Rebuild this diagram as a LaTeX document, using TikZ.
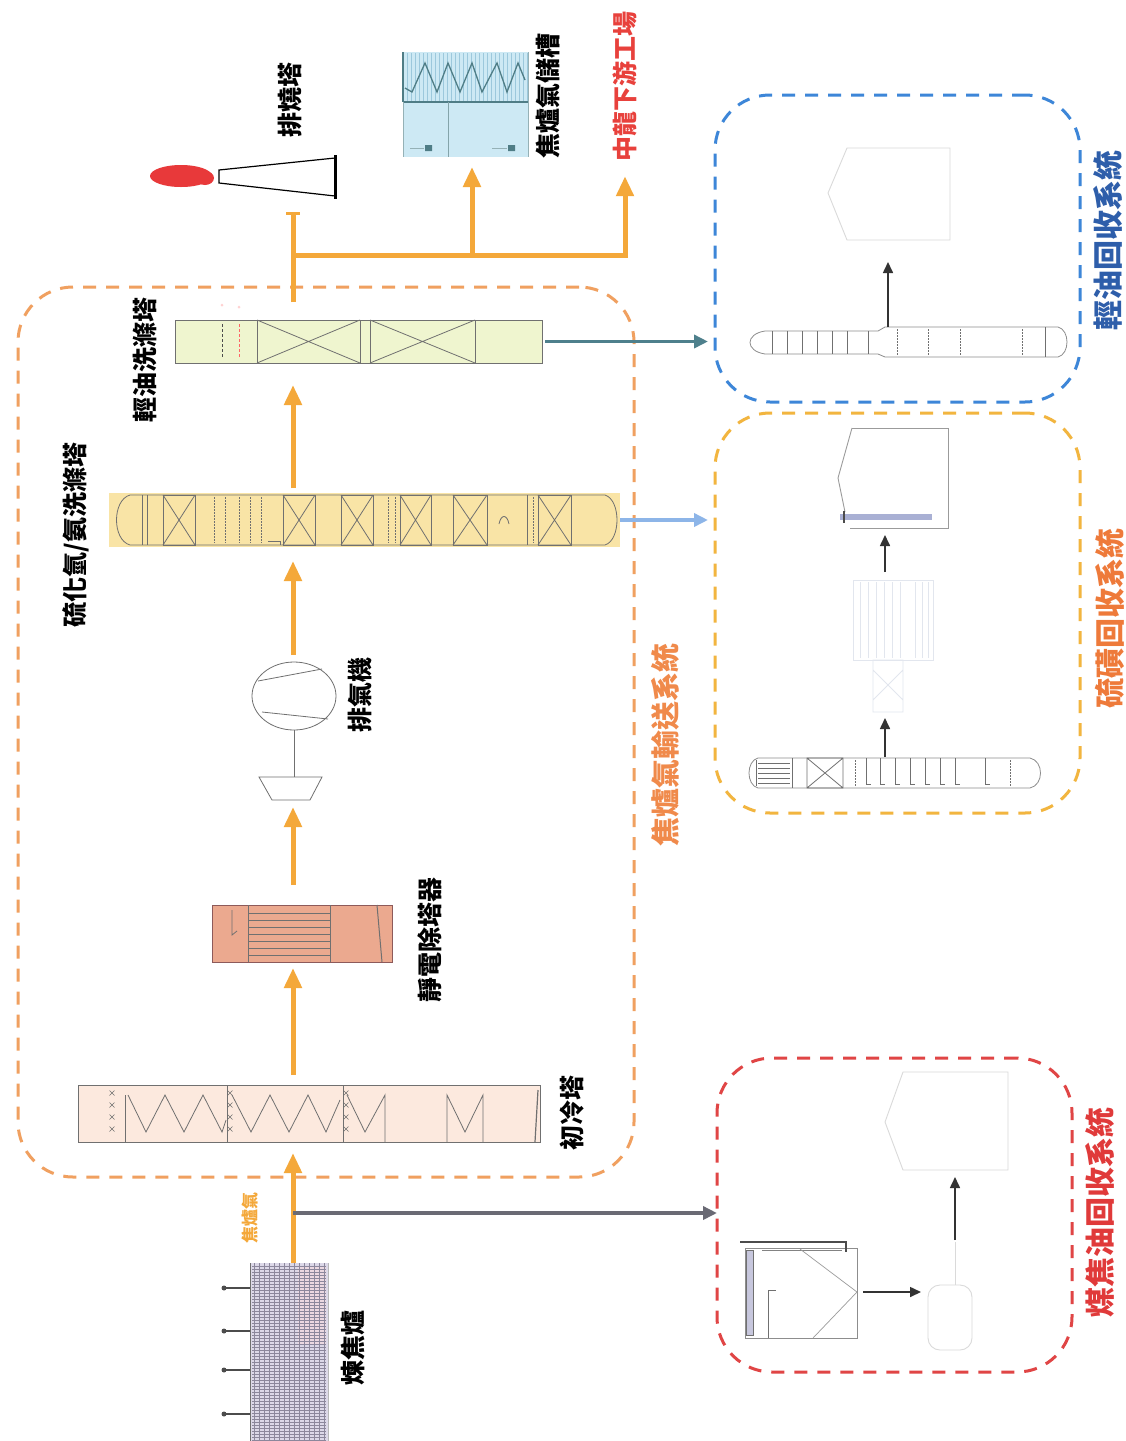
\documentclass[tikz,border=0pt]{standalone}
\usepackage{fontspec}
\newfontfamily\cjk{Noto Sans CJK TC}
\usetikzlibrary{arrows.meta,shapes.geometric}
\definecolor{flowc}{HTML}{F4A83A}
\definecolor{bigc}{HTML}{F0A060}
\definecolor{bluec}{HTML}{3D86D8}
\definecolor{yelc}{HTML}{F2B53F}
\definecolor{redc}{HTML}{E04545}
\definecolor{grayc}{HTML}{6A6A74}
\definecolor{tealc}{HTML}{4E808C}
\definecolor{lbluec}{HTML}{8DB5E8}
\definecolor{eqline}{HTML}{707070}
\definecolor{faintc}{HTML}{DADADA}
\definecolor{exfaint}{HTML}{E2E6EE}
\definecolor{blkc}{HTML}{333333}
\definecolor{ovenc}{HTML}{DCD8E8}
\definecolor{ovenl}{HTML}{8C879C}
\definecolor{coolc}{HTML}{FCE9DE}
\definecolor{espc}{HTML}{EBA98F}
\definecolor{h2sc}{HTML}{F9E4A6}
\definecolor{loc}{HTML}{EFF5CF}
\definecolor{holdc}{HTML}{CDE9F4}
\definecolor{holdl}{HTML}{9CC8DC}
\definecolor{zigc}{HTML}{4F7D86}
\definecolor{flamec}{HTML}{E8393A}
\definecolor{dsred}{HTML}{E8413C}
\definecolor{gasorange}{HTML}{F08A4B}
\definecolor{blutxt}{HTML}{2E5EAA}
\definecolor{sulftxt}{HTML}{EE7A3A}
\definecolor{tartxt}{HTML}{E03A3A}
\definecolor{barc}{HTML}{A9B0D4}
\definecolor{shadec}{HTML}{C7C7DD}
\begin{document}
\begin{tikzpicture}[x=1pt,y=-1pt,
 flow/.style={draw=flowc,line width=5pt,-{Triangle[length=20pt,width=17pt]}},
 flowline/.style={draw=flowc,line width=5pt},
 eqp/.style={draw=eqline,line width=0.8pt},
 faint/.style={draw=faintc,line width=0.9pt},
 dotl/.style={draw=eqline,line width=0.7pt,dash pattern=on 1.5pt off 1.5pt},
 blk/.style={draw=blkc,line width=1.6pt,-{Triangle[length=11pt,width=10pt]}},
 side/.style={line width=3.5pt,-{Triangle[length=14pt,width=13pt]}},
 sysbox/.style={rectangle,line width=3pt,dash pattern=on 13pt off 10pt,rounded corners=55pt,inner sep=0pt,outer sep=0pt},
 box/.style={rectangle,inner sep=0pt,outer sep=0pt},
 lbl/.style={rotate=90,inner sep=0pt,font=\cjk\bfseries\fontsize{25}{25}\selectfont},
 syslbl/.style={rotate=90,inner sep=0pt,font=\cjk\bfseries\fontsize{30}{30}\selectfont},
]
\fill[white] (0,0) rectangle (1126,1441);
\useasboundingbox (0,0) rectangle (1126,1441);

% ---------- system boxes ----------
\node[sysbox,draw=bigc,minimum width=616pt,minimum height=890pt] (gasbox) at (326,732) {};
\node[sysbox,draw=bluec,minimum width=365pt,minimum height=307pt] (bluebox) at (897.5,248.5) {};
\node[sysbox,draw=yelc,minimum width=365pt,minimum height=400pt] (yelbox) at (897.5,613) {};
\node[sysbox,draw=redc,minimum width=355pt,minimum height=314pt] (redbox) at (894.5,1215) {};

\coordinate (ax) at (293,0);

% ---------- coke oven ----------
\node[box,fill=ovenc,minimum width=78pt,minimum height=178pt] (oven) at (289,1352) {};
\fill[pink!60,opacity=0.45] (298,1266) rectangle (326,1345);
\foreach \yy in {1266,1269,...,1440} \draw[ovenl,line width=0.45pt] (252,\yy)--(326,\yy);
\foreach \xx in {254,259,...,324} \draw[ovenl,line width=0.5pt] (\xx,1263)--(\xx,1441);
\draw[eqline,line width=1pt] (250,1263)--(250,1441);
\draw[eqline!50,line width=0.8pt] (328,1263)--(328,1441);
\foreach \yy in {1288,1331,1370,1414}{
  \draw[draw=black!70,line width=2pt] (222,\yy)--(250,\yy);
  \fill[black!70] (224,\yy) circle (2.5pt);
}

% ---------- primary cooler ----------
\node[box,draw=eqline,fill=coolc,line width=0.8pt,minimum width=462pt,minimum height=57pt] (cooler) at (309,1113.5) {};
\draw[eqp] (125,1095)--(125,1142) (227,1085)--(227,1142) (343,1085)--(343,1142);
\draw[eqp] (128,1095)--(146,1132)--(165,1095)--(184,1132)--(203,1095)--(222,1132)--(226,1120);
\draw[eqp] (232,1095)--(251,1132)--(270,1095)--(289,1132)--(308,1095)--(326,1132)--(340,1100);
\draw[eqp] (347,1095)--(365,1132)--(385,1095)--(385,1142);
\draw[eqp] (447,1142)--(447,1095)--(465,1132)--(483,1095)--(483,1142);
\draw[eqline,line width=1.2pt] (535,1142)--(538,1090);
\foreach \cx in {112,230,346}{
  \foreach \cy in {1093,1105,1117,1129}{
    \draw[eqline,line width=0.6pt] (\cx-2.5,\cy-2.5)--(\cx+2.5,\cy+2.5) (\cx-2.5,\cy+2.5)--(\cx+2.5,\cy-2.5);
  }
}

% ---------- electrostatic precipitator ----------
\node[box,draw=eqline!80!red,fill=espc,line width=0.8pt,minimum width=180pt,minimum height=57pt] (esp) at (302,933.5) {};
\draw[eqp] (248,905)--(248,962) (330,905)--(330,962);
\foreach \yy in {913,920,...,955} \draw[eqline,line width=0.6pt] (248,\yy)--(330,\yy);
\draw[eqline,line width=1pt] (377,905)--(382,962);
\draw[eqp] (232,910)--(232,935)--(237,931);

% ---------- exhauster ----------
\node[ellipse,draw=eqline,line width=0.8pt,minimum width=84pt,minimum height=68pt,inner sep=0pt,outer sep=0pt] (exh) at (294,696) {};
\draw[eqp] (258,681)--(322,669);
\draw[eqp] (262,712)--(328,719);
\coordinate (compN) at (294,777);
\coordinate (compS) at (294,800);
\draw[eqp] (exh.south)--(compN);
\draw[eqp] (259,777)--(322,777)--(310,800)--(272,800)--cycle;

% ---------- H2S / NH3 scrubber ----------
\node[box,fill=h2sc,minimum width=511pt,minimum height=54pt] (h2s) at (364.5,520) {};
\draw[eqp] (130,495)--(605,495) .. controls (621,500) and (621,540) .. (605,545) -- (130,545) .. controls (112,540) and (112,500) .. (130,495);
\draw[eqp] (142,495)--(142,545) (147,495)--(147,545);
\foreach \a/\b in {163/195,283/315,341/373,400/431,453/487,538/571}{
  \draw[eqp] (\a,495) rectangle (\b,545);
  \draw[eqp] (\a,495)--(\b,545) (\a,545)--(\b,495);
}
\foreach \xx in {214,225,239,250,261,388,395,533} \draw[dotl] (\xx,497)--(\xx,543);
\draw[eqp] (527,495)--(527,545);
\draw[eqp] (268,541)--(280,541)--(280,545);
\draw[eqp] (499,524) .. controls (501,514) and (507,514) .. (509,524);

% ---------- light oil scrubber ----------
\node[box,draw=eqline,fill=loc,line width=0.8pt,minimum width=367pt,minimum height=43pt] (lo) at (358.5,341.5) {};
\foreach \a/\b in {257/360,370/475}{
  \draw[eqp] (\a,320) rectangle (\b,363);
  \draw[eqp] (\a,320)--(\b,363) (\a,363)--(\b,320);
}
\draw[draw=black!70,line width=0.9pt,dash pattern=on 3pt off 2pt] (222,324)--(222,358);
\draw[draw=red!60,line width=0.9pt,dash pattern=on 3pt off 2pt] (239,324)--(239,358);
\fill[pink!70] (222,305) circle (1.5pt) (239,307) circle (1.5pt);

% ---------- flare ----------
\fill[flamec] (181,176) ellipse [x radius=31, y radius=11];
\fill[flamec] (205,178) ellipse [x radius=9, y radius=7];
\draw[draw=black,line width=1.2pt] (219,170)--(335,158)--(335,196)--(219,183)--cycle;
\draw[draw=black,line width=3pt] (335,155)--(335,199);

% ---------- gas holder ----------
\node[box,fill=holdc,minimum width=125pt,minimum height=105pt] (holder) at (465.5,104.5) {};
\foreach \xx in {407,411,...,527} \draw[holdl,line width=0.6pt] (\xx,53)--(\xx,101);
\draw[zigc,line width=1.3pt] (405,88)--(412,92)--(425,63)--(437,92)--(448,63)--(460,92)--(472,63)--(482,92)--(497,63)--(507,92)--(518,63)--(525,80);
\draw[zigc,line width=1.2pt] (403,102)--(528,102);
\draw[zigc,line width=1.4pt] (403,52)--(403,102);
\draw[zigc!60,line width=0.8pt] (403,102)--(403,157) (528,52)--(528,157);
\draw[zigc!70,line width=0.9pt] (448,102)--(448,157);
\fill[zigc] (425,145) rectangle (432,151) (508,145) rectangle (515,151);
\draw[zigc!60,line width=0.7pt] (410,148)--(424,148) (492,148)--(507,148);

% ---------- main flow ----------
\draw[flow,shorten >=11pt] (oven.north -| ax) -- (cooler.south -| ax);
\draw[flow,shorten <=10pt,shorten >=6pt] (cooler.north -| ax) -- (esp.south -| ax);
\draw[flow,shorten <=20pt,shorten >=7pt] (esp.north -| ax) -- (compS -| ax);
\draw[flow,shorten <=7pt,shorten >=14pt] (exh.north -| ax) -- (h2s.south -| ax);
\draw[flow,shorten <=5pt,shorten >=22pt] (h2s.north -| ax) -- (lo.south -| ax);

\coordinate (fcap) at (293,213);
\coordinate (fcapL) at (286,213);
\coordinate (fcapR) at (300,213);
\coordinate (j1) at (293,255);
\coordinate (j2) at (472,255);
\coordinate (j3) at (628,255);
\draw[flowline,shorten <=18pt] (lo.north -| ax) -- (fcap);
\draw[draw=flowc,line width=3pt] (fcapL) -- (fcapR);
\draw[flowline] (j1) -- (j3);
\draw[flow,shorten >=10pt] (j2) -- (holder.south -| j2);

% labels
\node[lbl] (lflare) at (290,100) {排燒塔};
\node[lbl] (lholder) at (548,96) {焦爐氣儲槽};
\node[lbl,text=dsred] (ds) at (625,86) {中龍下游工場};
\draw[flow,shorten >=15pt] ([xshift=-3pt]j3) -- (ds.west);
\node[lbl] (llo) at (145,360) {輕油洗滌塔};
\node[lbl] (lh2s) at (76,535) {硫化氫/氨洗滌塔};
\node[lbl] (lexh) at (360,695) {排氣機};
\node[lbl,text=gasorange,font=\cjk\bfseries\fontsize{29}{29}\selectfont] (lgas) at (665,745) {焦爐氣輸送系統};
\node[lbl] (lesp) at (430,940) {靜電除塔器};
\node[lbl] (lcool) at (572,1113) {初冷塔};
\node[lbl,text=flowc,font=\cjk\bfseries\fontsize{17}{17}\selectfont] (lcog) at (250,1218) {焦爐氣};
\node[lbl] (loven) at (353,1348) {煉焦爐};
\node[syslbl,text=blutxt] (lblue) at (1108,240) {輕油回收系統};
\node[syslbl,text=sulftxt] (lyel) at (1110,618) {硫磺回收系統};
\node[syslbl,text=tartxt] (lred) at (1100,1212) {煤焦油回收系統};

% ---------- side flows ----------
\coordinate (br) at (293,1213);
\draw[side,draw=grayc,line width=4pt] (br) -- (redbox.west |- br);
\draw[side,draw=tealc,shorten <=3pt,shorten >=7pt] (lo.east) -- (bluebox.west |- lo.east);
\draw[side,draw=lbluec,shorten >=7pt] (h2s.east) -- (yelbox.west |- h2s.east);

% ---------- light oil recovery ----------
\draw[draw=eqline!80,line width=0.8pt] (765,331)--(878,331)--(885,327)--(1058,327) .. controls (1070,330) and (1070,354) .. (1058,357) -- (885,357)--(878,354)--(765,354) .. controls (745,351) and (745,334) .. (765,331);
\foreach \xx in {772,787,802,817,832,847,868} \draw[eqp] (\xx,331)--(\xx,354);
\foreach \xx in {897,928,960,1022} \draw[dotl] (\xx,329)--(\xx,355);
\draw[eqp] (1045,327)--(1045,357);
\coordinate (locolT) at (888,327);
\coordinate (lopentB) at (888,262);
\draw[blk] (locolT) -- (lopentB);
\draw[faint] (828,193)--(847,148)--(950,148)--(950,240)--(847,240)--cycle;

% ---------- sulphur recovery ----------
\draw[draw=eqline!70,line width=0.9pt] (852,428)--(948,428)--(948,528)--(850,528);
\draw[draw=eqline!70,line width=0.9pt] (852,428)--(838,478)--(845,512);
\fill[barc] (840,514) rectangle (932,520);
\draw[draw=black!70,line width=1.5pt] (844,511)--(844,523);
\draw[draw=exfaint,line width=0.8pt] (853,580) rectangle (933,660);
\foreach \xx in {860,868,876,884,892,900,915,922,928} \draw[draw=exfaint,line width=0.6pt] (\xx,582)--(\xx,658);
\draw[draw=exfaint,line width=0.8pt] (873,660) rectangle (903,712) (873,670)--(903,700) (873,700)--(903,670);
\coordinate (sexT) at (885,572);
\coordinate (svesB) at (885,535);
\coordinate (scolT) at (885,757);
\coordinate (sexB) at (885,718);
\draw[blk] (sexT) -- (svesB);
\draw[blk] (scolT) -- (sexB);
\draw[draw=eqline!80,line width=0.8pt] (758,758)--(1030,758) .. controls (1044,761) and (1044,785) .. (1030,788) -- (758,788) .. controls (746,785) and (746,761) .. (758,758);
\draw[eqp] (756,760)--(756,786) (792,758)--(792,788);
\foreach \yy in {763,768,773,778,783} \draw[eqline,line width=0.6pt] (758,\yy)--(790,\yy);
\draw[eqp] (807,758) rectangle (843,788) (807,758)--(843,788) (807,788)--(843,758);
\draw[dotl] (855,760)--(855,786) (1010,760)--(1010,786);
\foreach \xx in {866,880,895,910,925,940,955,985}{
  \draw[eqp] (\xx,758)--(\xx,784)--(\xx+5,784);
}

% ---------- tar recovery ----------
\draw[draw=eqline!80,line width=0.8pt] (745,1248) rectangle (857,1338);
\fill[shadec] (746,1250) rectangle (753,1335);
\draw[eqp] (746,1250) rectangle (753,1335);
\draw[draw=black!70,line width=2.5pt] (740,1242)--(846,1242)--(846,1252);
\draw[draw=faintc!60!black,line width=0.6pt] (762,1250)--(842,1250);
\draw[draw=eqline!70,line width=0.7pt] (800,1249)--(857,1292)--(813,1338);
\draw[eqp] (768,1338)--(768,1290)--(776,1290);
\coordinate (tdecR) at (863,1292);
\coordinate (tvesL) at (921,1292);
\draw[blk] (tdecR) -- (tvesL);
\draw[faint,rounded corners=12pt] (928,1285) rectangle (972,1350);
\draw[faint] (955,1242)--(955,1285);
\coordinate (tvesT) at (955,1240);
\coordinate (tpentB) at (955,1177);
\draw[blk] (tvesT) -- (tpentB);
\draw[faint] (885,1122)--(903,1072)--(1008,1072)--(1008,1170)--(903,1170)--cycle;
\end{tikzpicture}
\end{document}
